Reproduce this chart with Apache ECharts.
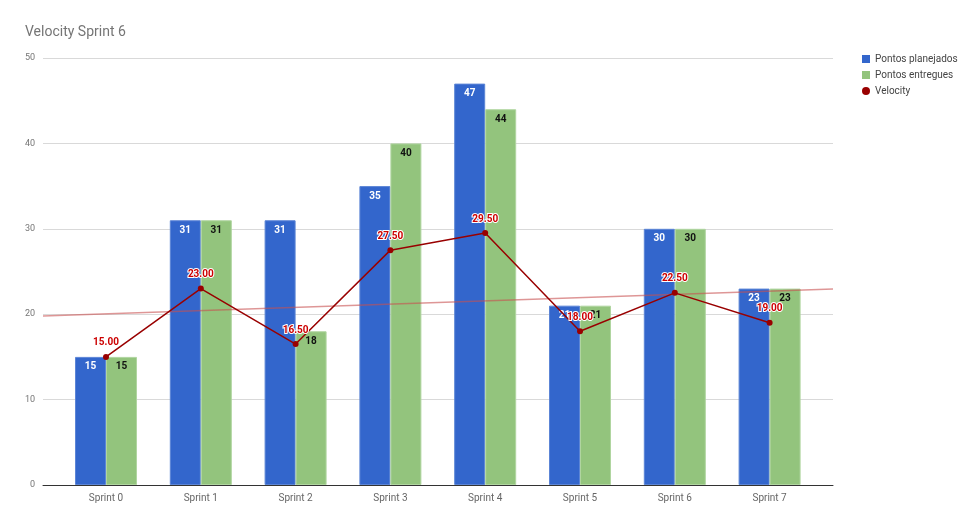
<!DOCTYPE html>
<html><head><meta charset="utf-8">
<script src="https://cdn.jsdelivr.net/npm/echarts@6/dist/echarts.min.js"></script>
<style>html,body{margin:0;padding:0;background:#fff}#c{width:980px;height:524px}</style>
</head><body><div id="c"></div>
<script>
const categories = ['Sprint 0','Sprint 1','Sprint 2','Sprint 3','Sprint 4','Sprint 5','Sprint 6','Sprint 7'];
const planejados = [15,31,31,35,47,21,30,23];
const entregues = [15,31,18,40,44,21,30,23];
const velocity = [15.00,23.00,16.50,27.50,29.50,18.00,22.50,19.00];
const trendEnds = [19.8,22.96];
const yTicks = [0,10,20,30,40,50];

const F = 'Roboto, "Noto Sans", sans-serif';
const chart = echarts.init(document.getElementById('c'), null, {renderer:'canvas'});
chart.setOption({
  animation:false,
  backgroundColor:'#fff',
  title:{text:'Velocity Sprint 6', left:20, top:20, textStyle:{fontFamily:F, fontSize:14, fontWeight:'normal', color:'#757575'}},
  legend:{
    orient:'vertical', left:857, top:49, itemGap:6, itemWidth:8, itemHeight:8,
    textStyle:{fontFamily:F, fontSize:10, color:'#444', lineHeight:10},
    itemStyle:{borderWidth:0},
    data:[{name:'Pontos planejados', icon:'rect'},{name:'Pontos entregues', icon:'rect'},{name:'Velocity', icon:'circle'}]
  },
  grid:[
    {left:58.6, right:163, top:58, bottom:39},
    {left:43, right:147, top:58, bottom:39}
  ],
  xAxis:[
    {type:'category', gridIndex:0, data:categories, axisLine:{show:false}, axisTick:{show:false},
     axisLabel:{fontFamily:F, fontSize:10, color:'#666', margin:8}},
    {type:'value', gridIndex:1, min:0, max:1, axisLine:{show:true, onZero:false, lineStyle:{color:'#333', width:1}},
     axisTick:{show:false}, axisLabel:{show:false}, splitLine:{show:false}}
  ],
  yAxis:[
    {type:'value', gridIndex:0, min:yTicks[0], max:yTicks[yTicks.length-1], interval:10, show:false, splitLine:{show:false}},
    {type:'value', gridIndex:1, min:yTicks[0], max:yTicks[yTicks.length-1], interval:10,
     axisLine:{show:false}, axisTick:{show:false},
     axisLabel:{fontFamily:F, fontSize:9, color:'#757575', margin:8},
     splitLine:{lineStyle:{color:'#d9d9d9', width:1}}}
  ],
  series:[
    {name:'Pontos planejados', type:'bar', xAxisIndex:0, yAxisIndex:0, data:planejados, barWidth:31, barGap:'0%',
     itemStyle:{color:'#3366cc', borderColor:'#5c85d6', borderWidth:1},
     label:{show:true, position:'insideTop', distance:5, fontFamily:F, fontSize:10, fontWeight:'bold', color:'#fff'}, z:2},
    {name:'Pontos entregues', type:'bar', xAxisIndex:0, yAxisIndex:0, data:entregues, barWidth:31, barGap:'0%',
     itemStyle:{color:'#93c47d', borderColor:'#b0d5a0', borderWidth:1},
     label:{show:true, position:'insideTop', distance:5, fontFamily:F, fontSize:10, fontWeight:'bold', color:'#111'}, z:2},
    {name:'Trend', type:'line', xAxisIndex:1, yAxisIndex:1, data:[[0,trendEnds[0]],[1,trendEnds[1]]],
     symbol:'none', lineStyle:{color:'#c85050', width:1.5, opacity:0.6}, z:3, silent:true},
    {name:'Velocity', type:'line', xAxisIndex:0, yAxisIndex:0, data:velocity,
     symbol:'circle', symbolSize:6, lineStyle:{color:'#990000', width:1.5}, itemStyle:{color:'#990000'},
     label:{show:true, position:'top', distance:6, formatter:p=>p.value.toFixed(2), fontFamily:F, fontSize:10, fontWeight:'bold',
       color:'#cc0000', textBorderColor:'#fff', textBorderWidth:2}, z:5}
  ]
});
</script></body></html>
